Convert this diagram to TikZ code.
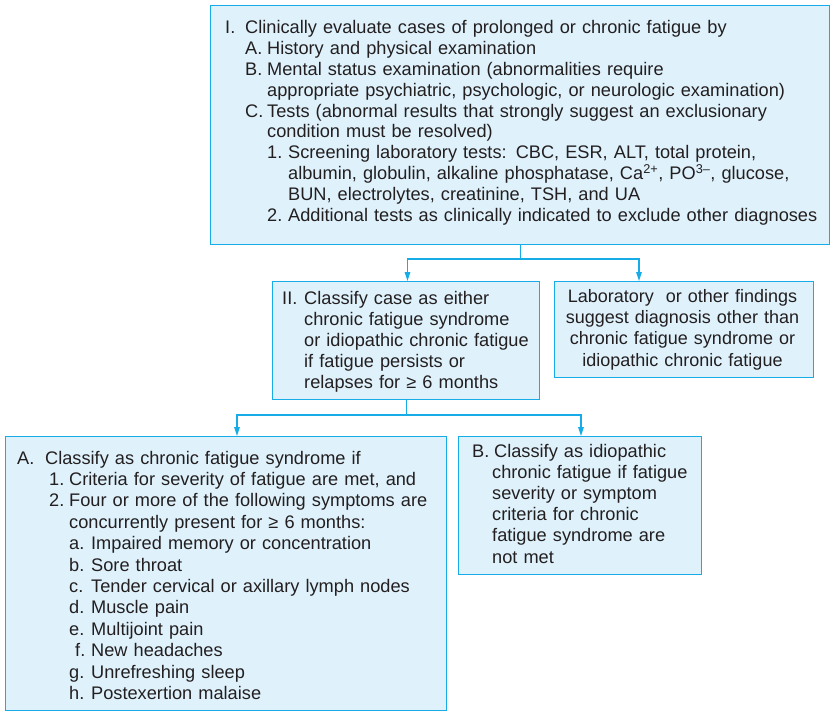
\documentclass[tikz,border=0pt]{standalone}
\usepackage{fontspec}
\setmainfont{Liberation Sans}
\usetikzlibrary{arrows.meta}
\definecolor{bord}{RGB}{22,172,232}
\definecolor{boxfill}{RGB}{223,242,252}
\definecolor{ink}{RGB}{35,31,32}
\newcommand\lb[2]{\makebox[#1][l]{#2}}
\newcommand\ind[1]{\hspace*{#1}}
\begin{document}
\begin{tikzpicture}[x=1pt,y=-1pt,
  box/.style={draw=bord,fill=boxfill,line width=1.4pt,inner sep=0pt,anchor=north west},
  txt/.style={anchor=base west,inner sep=0pt,text width=600pt,align=left,text=ink},
  conn/.style={draw=bord,line width=1.3pt},
  arr/.style={conn,-{Triangle[length=9pt,width=5.5pt]}}]
\useasboundingbox (0,0) rectangle (830,710);
% boxes
\node[box,minimum width=619pt,minimum height=239pt] (top) at (210,5) {};
\node[box,minimum width=267pt,minimum height=118pt] (ii) at (272,281) {};
\node[box,minimum width=259pt,minimum height=96pt] (lab) at (553.5,281) {};
\node[box,minimum width=441pt,minimum height=274pt] (ca) at (5,436) {};
\node[box,minimum width=243pt,minimum height=138pt] (cb) at (458,436) {};
% texts
\node[txt,font=\fontsize{18.2}{20.93}\selectfont] (ttop) at (225,33.3) {%
\lb{20pt}{I.}Clinically evaluate cases of prolonged or chronic fatigue by\\
\ind{20pt}\lb{22pt}{A.}History and physical examination\\
\ind{20pt}\lb{22pt}{B.}Mental status examination (abnormalities require\\
\ind{42pt}appropriate psychiatric, psychologic, or neurologic examination)\\
\ind{20pt}\lb{22pt}{C.}Tests (abnormal results that strongly suggest an exclusionary\\
\ind{42pt}condition must be resolved)\\
\ind{42pt}\lb{21pt}{1.}Screening laboratory tests: CBC, ESR, ALT, total protein,\\
\ind{63pt}albumin, globulin, alkaline phosphatase, Ca\textsuperscript{2+}, PO\textsuperscript{3\textendash}, glucose,\\
\ind{63pt}BUN, electrolytes, creatinine, TSH, and UA\\
\ind{42pt}\lb{21pt}{2.}Additional tests as clinically indicated to exclude other diagnoses};
\node[txt,font=\fontsize{18.2}{21.2}\selectfont] (tii) at (282,304) {%
\lb{22pt}{II.}Classify case as either\\
\ind{22pt}chronic fatigue syndrome\\
\ind{22pt}or idiopathic chronic fatigue\\
\ind{22pt}if fatigue persists or\\
\ind{22pt}relapses for ≥ 6 months};
\node[txt,font=\fontsize{18}{21.1}\selectfont,anchor=base,text width=259pt,align=center] (tlab) at (682.5,302.7) {%
Laboratory\ \ or other findings\\
suggest diagnosis other than\\
chronic fatigue syndrome or\\
idiopathic chronic fatigue};
\node[txt,font=\fontsize{18.2}{21.4}\selectfont] (tca) at (17,464) {%
\lb{28pt}{A.}Classify as chronic fatigue syndrome if\\
\ind{32pt}\lb{20pt}{1.}Criteria for severity of fatigue are met, and\\
\ind{32pt}\lb{20pt}{2.}Four or more of the following symptoms are\\
\ind{52pt}concurrently present for ≥ 6 months:\\
\ind{52pt}\lb{22pt}{a.}Impaired memory or concentration\\
\ind{52pt}\lb{22pt}{b.}Sore throat\\
\ind{52pt}\lb{22pt}{c.}Tender cervical or axillary lymph nodes\\
\ind{52pt}\lb{22pt}{d.}Muscle pain\\
\ind{52pt}\lb{22pt}{e.}Multijoint pain\\
\ind{58pt}\lb{16pt}{f.}New headaches\\
\ind{52pt}\lb{22pt}{g.}Unrefreshing sleep\\
\ind{52pt}\lb{22pt}{h.}Postexertion malaise};
\node[txt,font=\fontsize{18.2}{21.2}\selectfont] (tcb) at (472,457) {%
\lb{22pt}{B.}Classify as idiopathic\\
\ind{20pt}chronic fatigue if fatigue\\
\ind{20pt}severity or symptom\\
\ind{20pt}criteria for chronic\\
\ind{20pt}fatigue syndrome are\\
\ind{20pt}not met};
% connectors
\coordinate (j1) at (520.5,259);
\coordinate (xl1) at (407.5,0);
\coordinate (xr1) at (639,0);
\coordinate (j2) at (406.5,415);
\coordinate (xl2) at (237,0);
\coordinate (xr2) at (581,0);
\draw[conn] (top.south -| j1) -- (j1);
\draw[arr] (j1) -| (ii.north -| xl1);
\draw[arr] (j1) -| (lab.north -| xr1);
\draw[conn] (ii.south -| j2) -- (j2);
\draw[arr] (j2) -| (ca.north -| xl2);
\draw[arr] (j2) -| (cb.north -| xr2);
\end{tikzpicture}
\end{document}
